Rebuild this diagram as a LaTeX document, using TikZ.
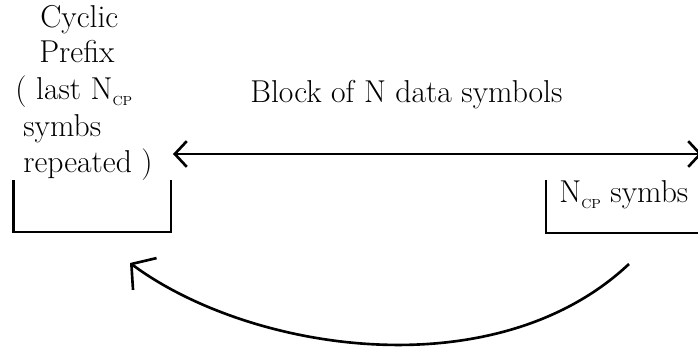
\documentclass[tikz,border=0pt]{standalone}
\usepackage{amsmath}
\usepackage{tikz}
\usetikzlibrary{arrows.meta}

\newcommand{\ncp}{N\raisebox{-0.4ex}{\fontsize{7.5}{8}\selectfont CP}}

\begin{document}
\begin{tikzpicture}
	\tikzset{label/.style = {anchor=base west, inner sep=0, font=\fontsize{18}{22}\selectfont}}
	\tikzset{bracket/.style = {draw, line width=1.5pt}}
	\tikzset{edge/.style = {line width=1.5pt, <->, > = {Straight Barb[length=6.8pt, width=14.6pt]}}}
	\tikzset{copyedge/.style = {line width=1.5pt, ->, > = {Straight Barb[length=9.5pt, width=22.5pt]}}}
	\useasboundingbox (0, 0) rectangle (13.96, -6.96);
	% cyclic prefix text
	\node[label] (cyclic) at (0.80, -0.56) {Cyclic};
	\node[label] (prefix) at (0.78, -1.26) {Prefix};
	\node[label] (last) at (0.30, -2.00) {( last \ncp};
	\node[label] (symbs) at (0.46, -2.74) {symbs};
	\node[label] (repeated) at (0.46, -3.46) {repeated )};
	\node[label] (block) at (5.00, -2.06) {Block of N data symbols};
	\node[label] (tail) at (11.18, -4.06) {\ncp\ symbs};
	% brackets
	\draw[bracket] (0.27, -3.60) -- (0.27, -4.64) -- (3.42, -4.64) -- (3.42, -3.60);
	\draw[bracket] (10.92, -3.60) -- (10.92, -4.66) -- (14.20, -4.66);
	% arrows
	\coordinate (blockl) at (3.46, -3.08);
	\coordinate (blockr) at (14.04, -3.08);
	\coordinate (copyfrom) at (12.58, -5.28);
	\coordinate (copyto) at (2.60, -5.26);
	\draw[edge] (blockl) to (blockr);
	\draw[copyedge] (copyfrom) .. controls (9.90, -7.80) and (5.00, -7.04) .. (copyto);
\end{tikzpicture}
\end{document}
